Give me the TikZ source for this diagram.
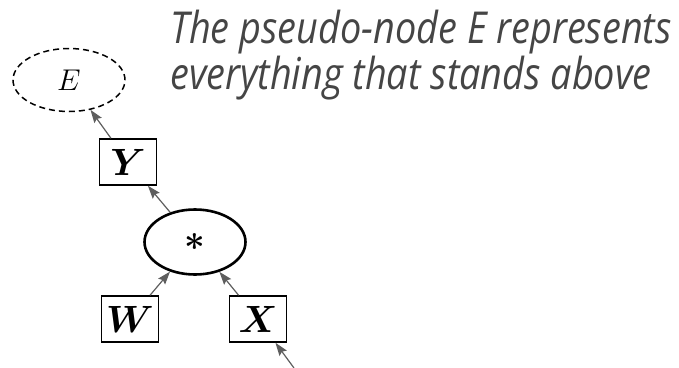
\RequirePackage{fix-cm}
\documentclass[tikz,border=0pt]{standalone}
\usepackage{amsmath}
\usepackage{bm}
\usepackage{fontspec}
\newfontfamily\capfont{Open Sans}
\usetikzlibrary{arrows.meta,shapes.geometric}
\definecolor{arrowgray}{HTML}{5E5E5E}
\definecolor{textgray}{HTML}{454545}
\tikzset{
  varbox/.style={draw, line width=1.5pt, minimum width=57pt, minimum height=46pt, inner sep=0pt, font=\fontsize{38}{40}\selectfont},
  opnode/.style={draw, ellipse, line width=2.6pt, minimum width=101pt, minimum height=65pt, inner sep=0pt, font=\fontsize{36}{40}\selectfont},
  pseudo/.style={draw, ellipse, line width=1.5pt, dash pattern=on 6pt off 4pt, minimum width=112pt, minimum height=63pt, inner sep=0pt, font=\fontsize{30}{32}\selectfont},
  edge/.style={draw=arrowgray, line width=1.2pt, -{Stealth[length=13pt,width=9pt,inset=2pt]}, arrowgray},
  caption/.style={anchor=base west, inner sep=0pt, text=textgray, font=\capfont\itshape\fontsize{44}{46}\selectfont}
}
\begin{document}
\begin{tikzpicture}[x=1pt,y=-1pt]
\useasboundingbox (0,0) rectangle (679,367);
\node[pseudo] (E) at (69,80) {$E$};
\node[varbox] (Y) at (128,162) {$\bm{Y}$};
\node[opnode] (S) at (195,242) {$\bm{*}$};
\node[varbox] (W) at (130,319) {$\bm{W}$};
\node[varbox] (X) at (258,319) {$\bm{X}$};
\coordinate (in) at (294,368);
\draw[edge] (Y) -- (E);
\draw[edge] (S) -- (Y);
\draw[edge] (W) -- (S);
\draw[edge] (X) -- (S);
\draw[edge] (in) -- (X);
\node[caption] (c1) at (170,43) {\scalebox{0.86}[1]{The pseudo-node E represents}};
\node[caption] (c2) at (170,89) {\scalebox{0.86}[1]{everything that stands above}};
\end{tikzpicture}
\end{document}
